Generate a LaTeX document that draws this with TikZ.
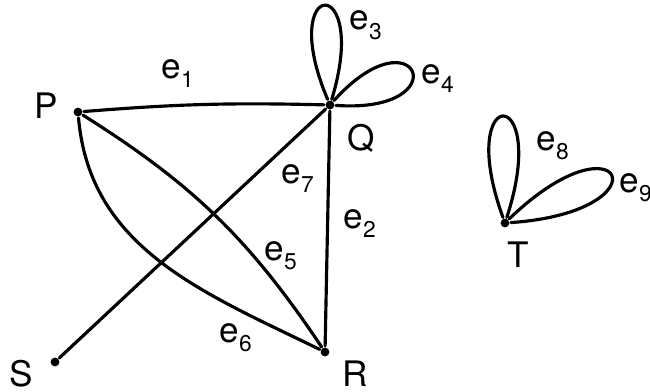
\documentclass[tikz,border=0pt]{standalone}
\usepackage{fontspec}
\setmainfont{TeX Gyre Heros}
\newcommand{\elab}[1]{e\raisebox{-5.5pt}{\fontsize{13}{13}\selectfont #1}}

\begin{document}
\begin{tikzpicture}[x=0.02cm, y=-0.02cm, line width=1.8pt, line cap=round,
        vertex/.style={circle, fill, inner sep=0pt, minimum size=5pt},
        vname/.style={inner sep=0pt, anchor=base, font=\fontsize{20}{22}\selectfont},
        ename/.style={inner sep=0pt, anchor=base west, font=\fontsize{20}{22}\selectfont}]
        \useasboundingbox (0,0) rectangle (650,392);

        \node[vertex] (P) at (78,112) {};
        \node[vertex] (Q) at (330,105) {};
        \node[vertex] (R) at (325,352) {};
        \node[vertex] (S) at (55,362) {};
        \node[vertex] (T) at (505,223) {};

        \node[vname] (lP) at (46,118) {P};
        \node[vname] (lQ) at (361,150) {Q};
        \node[vname] (lR) at (355,386) {R};
        \node[vname] (lS) at (21,386) {S};
        \node[vname] (lT) at (518,267) {T};

        \draw (P) to[bend left=3] (Q);
        \draw (Q) -- (R);
        \draw (Q) -- (S);
        \draw (P) to[bend left=12] (R);
        \draw (P) to[out=-85, in=154] (R);
        \draw (Q) to[out=113, in=73, min distance=2.68cm] (Q);
        \draw (Q) to[out=48, in=-4, min distance=2.48cm] (Q);
        \draw (T) to[out=110, in=72, min distance=2.86cm] (T);
        \draw (T) to[out=44, in=4, min distance=3.16cm] (T);

        \node[ename] (e1) at (160,78) {\elab{1}};
        \node[ename] (e2) at (342,228) {\elab{2}};
        \node[ename] (e3) at (348,30) {\elab{3}};
        \node[ename] (e4) at (420,83) {\elab{4}};
        \node[ename] (e5) at (263,260) {\elab{5}};
        \node[ename] (e6) at (218,342) {\elab{6}};
        \node[ename] (e7) at (280,183) {\elab{7}};
        \node[ename] (e8) at (535,150) {\elab{8}};
        \node[ename] (e9) at (618,192) {\elab{9}};
    \end{tikzpicture}
\end{document}
